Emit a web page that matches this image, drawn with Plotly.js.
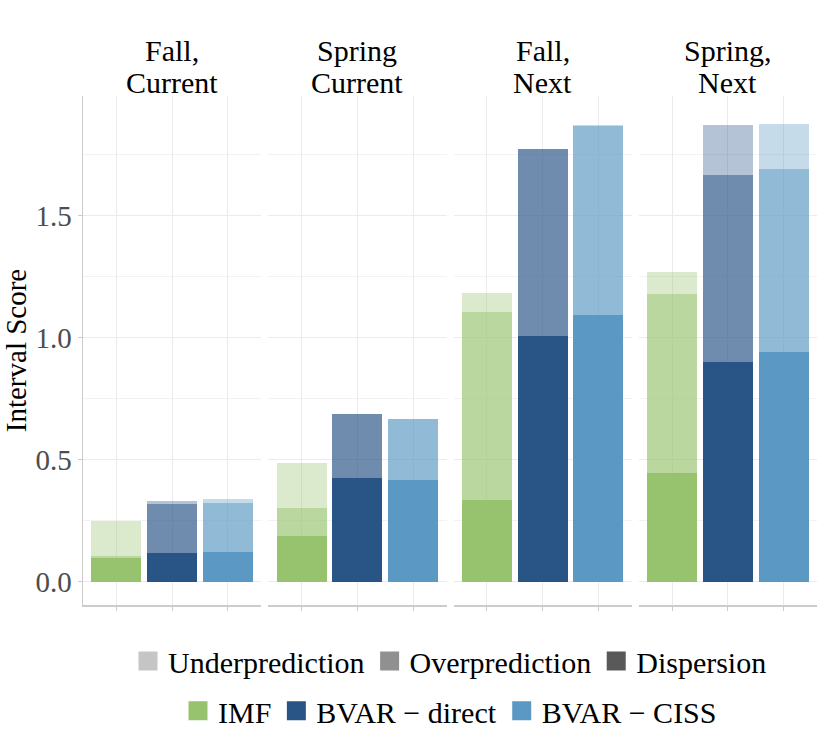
<!DOCTYPE html>
<html>
<head>
<meta charset="utf-8">
<script src="https://cdn.plot.ly/plotly-3.0.1.min.js"></script>
<style>html,body{margin:0;padding:0;background:#fff;}#chart{width:830px;height:738px;}</style>
</head>
<body>
<div id="chart"></div>
<script>
// ---- data ----
const stripLine1 = ['Fall,', 'Spring', 'Fall,', 'Spring,'];
const stripLine2 = ['Current', 'Current', 'Next', 'Next'];
const models = ['IMF', 'BVAR \u2212 direct', 'BVAR \u2212 CISS'];
const components = ['Dispersion', 'Overprediction', 'Underprediction'];
// per facet: [IMF, BVAR-direct, BVAR-CISS]
const dispersion = [
  [0.098, 0.118, 0.121],
  [0.188, 0.425, 0.416],
  [0.334, 1.007, 1.092],
  [0.443, 0.900, 0.940]
];
const overprediction = [
  [0.008, 0.201, 0.202],
  [0.113, 0.264, 0.250],
  [0.772, 0.768, 0.778],
  [0.738, 0.766, 0.753]
];
const underprediction = [
  [0.143, 0.011, 0.015],
  [0.185, 0.000, 0.000],
  [0.076, 0.000, 0.004],
  [0.087, 0.205, 0.185]
];

// ---- style ----
const modelColors = [[151, 195, 110], [41, 84, 134], [91, 152, 196]];
const compAlpha = [1, 0.67, 0.35];
const legendGrays = ['#595959', '#909090', '#C5C5C5'];
const serif = 'Liberation Serif, Times New Roman, serif';

const compData = [dispersion, overprediction, underprediction];
const suffix = ['', '2', '3', '4'];
const gap = 7 / 734;
const w = (1 - 3 * gap) / 4;

const traces = [];
for (let f = 0; f < 4; f++) {
  for (let c = 0; c < 3; c++) {
    traces.push({
      type: 'bar',
      x: models,
      y: compData[c][f],
      xaxis: 'x' + suffix[f],
      yaxis: 'y',
      name: components[c],
      showlegend: false,
      hoverinfo: 'skip',
      marker: {
        color: modelColors.map(rgb => 'rgba(' + rgb.join(',') + ',' + compAlpha[c] + ')'),
        line: {width: 0}
      }
    });
  }
}
// legend entries (row 1: components, lightest first)
[2, 1, 0].forEach(c => {
  traces.push({
    type: 'scatter', mode: 'markers', x: [null], y: [null],
    xaxis: 'x', yaxis: 'y', name: components[c], legend: 'legend',
    marker: {symbol: 'square', size: 16, color: legendGrays[c], line: {width: 3, color: legendGrays[c]}}
  });
});
// row 2: models
models.forEach((m, i) => {
  const col = 'rgb(' + modelColors[i].join(',') + ')';
  traces.push({
    type: 'scatter', mode: 'markers', x: [null], y: [null],
    xaxis: 'x', yaxis: 'y', name: m, legend: 'legend2',
    marker: {symbol: 'square', size: 16, color: col, line: {width: 3, color: col}}
  });
});

const layout = {
  width: 830, height: 738,
  margin: {l: 83, r: 13, t: 96, b: 133, autoexpand: false},
  paper_bgcolor: '#fff', plot_bgcolor: '#fff',
  barmode: 'stack', bargap: 0.1,
  font: {family: serif, color: '#000', size: 30},
  yaxis: {
    range: [-0.0963, 1.991], anchor: 'x',
    tickvals: [0, 0.5, 1, 1.5], tickformat: '.1f',
    tickfont: {family: serif, size: 29, color: '#4D4D4D'},
    ticks: 'outside', ticklen: 4, tickcolor: '#CCCCCC', tickwidth: 1,
    showgrid: true, gridcolor: '#EBEBEB', gridwidth: 1,
    minor: {tickvals: [0.25, 0.75, 1.25, 1.75], showgrid: true, gridcolor: '#F2F2F2', gridwidth: 1, ticks: ''},
    showline: true, linecolor: '#CCCCCC', linewidth: 1.5,
    zeroline: false, automargin: false,
    title: {text: 'Interval Score', font: {family: serif, size: 29, color: '#000'}}
  },
  legend: {
    orientation: 'h', x: 0.5, xanchor: 'center', y: -0.110, yanchor: 'middle',
    font: {family: serif, size: 30, color: '#000'}, bgcolor: 'rgba(0,0,0,0)',
    itemwidth: 30, tracegroupgap: 0, traceorder: 'normal'
  },
  legend2: {
    orientation: 'h', x: 0.5, xanchor: 'center', y: -0.208, yanchor: 'middle',
    font: {family: serif, size: 30, color: '#000'}, bgcolor: 'rgba(0,0,0,0)',
    itemwidth: 30, tracegroupgap: 0, traceorder: 'normal'
  },
  annotations: [],
  showlegend: true
};

for (let f = 0; f < 4; f++) {
  const key = 'xaxis' + suffix[f];
  const d0 = f * (w + gap);
  layout[key] = {
    domain: [d0, f === 3 ? 1 : d0 + w],
    anchor: 'y',
    type: 'category',
    categoryorder: 'array', categoryarray: models,
    range: [-0.6, 2.6],
    showticklabels: false,
    ticks: 'outside', ticklen: 4, tickcolor: '#CCCCCC', tickwidth: 1,
    showgrid: true, gridcolor: '#EBEBEB', gridwidth: 1,
    showline: true, linecolor: '#CCCCCC', linewidth: 1.5,
    zeroline: false, fixedrange: true, automargin: false
  };
  const xref = 'x' + suffix[f] + ' domain';
  layout.annotations.push({
    xref: xref, yref: 'paper', x: 0.5, y: 1.0888, xanchor: 'center', yanchor: 'middle',
    text: stripLine1[f], showarrow: false, font: {family: serif, size: 30, color: '#000'}
  });
  layout.annotations.push({
    xref: xref, yref: 'paper', x: 0.5, y: 1.0269, xanchor: 'center', yanchor: 'middle',
    text: stripLine2[f], showarrow: false, font: {family: serif, size: 30, color: '#000'}
  });
}

Plotly.newPlot('chart', traces, layout, {displayModeBar: false, staticPlot: true});
</script>
</body>
</html>
